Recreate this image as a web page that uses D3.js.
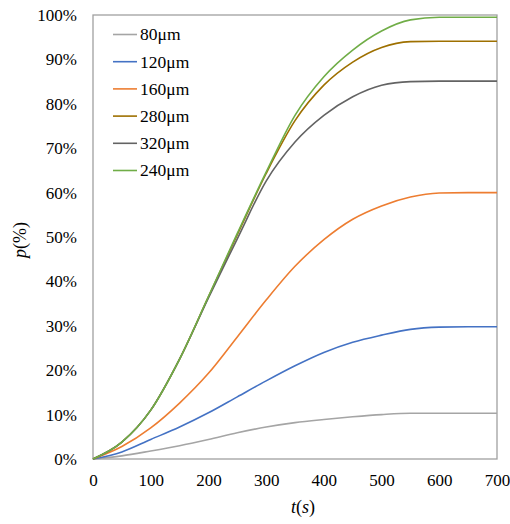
<!DOCTYPE html>
<html>
<head>
<meta charset="utf-8">
<script src="https://cdn.jsdelivr.net/npm/d3@7"></script>
<style>
  body { margin: 0; background: #fff; }
</style>
</head>
<body>
<svg id="chart" width="510" height="524" font-family="Liberation Serif"></svg>
<script>
const SERIF = "Liberation Serif";

// time axis (s)
const times = [0, 50, 100, 150, 200, 250, 300, 350, 400, 450, 500, 550, 600, 650, 700];

// p(%) per particle size
const p80  = [0, 0.7, 1.8, 3.0, 4.4, 5.9, 7.2, 8.2, 8.9, 9.5, 10.0, 10.3, 10.3, 10.3, 10.3];
const p120 = [0, 1.6, 4.4, 7.2, 10.4, 14.0, 17.6, 21.0, 24.0, 26.3, 27.9, 29.2, 29.7, 29.8, 29.8];
const p160 = [0, 2.8, 7.0, 12.6, 19.3, 27.5, 35.8, 43.4, 49.4, 54.0, 57.0, 59.0, 59.9, 60.0, 60.0];
const p280 = [0, 3.8, 11.0, 22.5, 36.5, 50.5, 64.3, 76.2, 84.2, 89.4, 92.7, 94.0, 94.1, 94.1, 94.1];
const p320 = [0, 3.8, 11.0, 22.5, 36.3, 49.6, 62.6, 71.4, 77.4, 81.6, 84.2, 85.0, 85.1, 85.1, 85.1];
const p240 = [0, 3.8, 11.0, 22.5, 36.6, 50.8, 64.6, 77.4, 86.1, 92.1, 96.4, 98.9, 99.5, 99.5, 99.5];

const seriesNames = ["80μm", "120μm", "160μm", "280μm", "320μm", "240μm"];
const seriesValues = [p80, p120, p160, p280, p320, p240];
const seriesColors = ["#a5a5a5", "#4472c4", "#ed7d31", "#9e7000", "#636363", "#70ad47"];

const xTicks = [0, 100, 200, 300, 400, 500, 600, 700];
const yTicks = [0, 10, 20, 30, 40, 50, 60, 70, 80, 90, 100];

const svg = d3.select("#chart");
const plot = { left: 93, right: 497, top: 15, bottom: 459 };

const xScale = d3.scaleLinear().domain([0, 700]).range([plot.left, plot.right]);
const yScale = d3.scaleLinear().domain([0, 100]).range([plot.bottom, plot.top]);

// frame round the plot
svg.append("rect")
    .attr("x", plot.left)
    .attr("y", plot.top)
    .attr("width", plot.right - plot.left)
    .attr("height", plot.bottom - plot.top)
    .attr("fill", "none")
    .attr("stroke", "#a0a0a0")
    .attr("stroke-width", 1.3);

// axes, labels only
const xAxis = svg.append("g")
    .attr("transform", `translate(0, ${plot.bottom})`)
    .call(d3.axisBottom(xScale).tickValues(xTicks).tickSize(0).tickPadding(15));
const yAxis = svg.append("g")
    .attr("transform", `translate(${plot.left}, 0)`)
    .call(d3.axisLeft(yScale).tickValues(yTicks).tickSize(0).tickPadding(16)
        .tickFormat(d => d + "%"));
[xAxis, yAxis].forEach(ax => {
    ax.attr("font-family", SERIF).attr("font-size", 17);
    ax.select(".domain").remove();
    ax.selectAll("text").attr("fill", "#000");
});

// the curves
const line = d3.line()
    .x((d, i) => xScale(times[i]))
    .y(d => yScale(d))
    .curve(d3.curveMonotoneX);

svg.append("g")
    .selectAll("path")
    .data(seriesValues)
    .join("path")
        .attr("d", line)
        .attr("fill", "none")
        .attr("stroke", (d, i) => seriesColors[i])
        .attr("stroke-width", 1.6);

// legend
const legend = svg.append("g");
seriesNames.forEach((name, i) => {
    const y = 34.5 + i * 27.2;
    legend.append("line")
        .attr("x1", 113).attr("x2", 137)
        .attr("y1", y).attr("y2", y)
        .attr("stroke", seriesColors[i])
        .attr("stroke-width", 1.6);
    legend.append("text")
        .attr("x", 140)
        .attr("y", y + 5.8)
        .attr("font-family", SERIF)
        .attr("font-size", 17.5)
        .text(name);
});

// axis titles
const xTitle = svg.append("text")
    .attr("x", 303)
    .attr("y", 513)
    .attr("text-anchor", "middle")
    .attr("font-family", SERIF)
    .attr("font-size", 18);
xTitle.append("tspan").attr("font-style", "italic").text("t");
xTitle.append("tspan").text("(");
xTitle.append("tspan").attr("font-style", "italic").text("s");
xTitle.append("tspan").text(")");

const yTitle = svg.append("text")
    .attr("transform", "translate(26, 240) rotate(-90)")
    .attr("text-anchor", "middle")
    .attr("font-family", SERIF)
    .attr("font-size", 18);
yTitle.append("tspan").attr("font-style", "italic").text("p");
yTitle.append("tspan").text("(%)");
</script>
</body>
</html>
